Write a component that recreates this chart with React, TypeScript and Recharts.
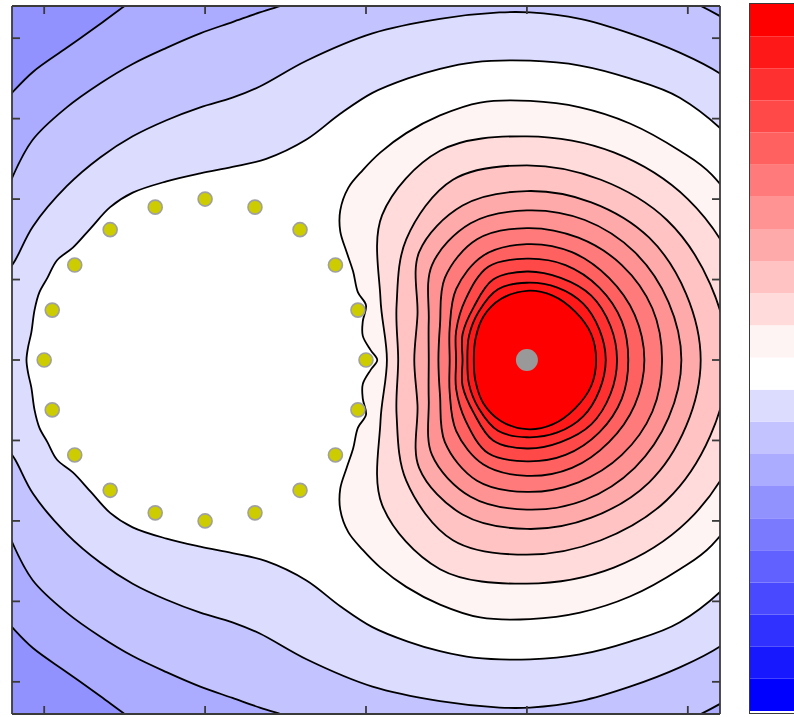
import React from "react";
import { ComposedChart, Scatter, XAxis, YAxis, CartesianGrid, BarChart, Bar } from "recharts";

type Pt = [number, number];
type XY = { x: number; y: number };

// colour bands of the colour bar, top (red) to bottom (blue)
const bandColors = [
  "#ff0000", "#ff1818", "#ff3030", "#ff4848", "#ff6161", "#ff7a7a", "#ff9292", "#ffaaaa",
  "#ffc3c3", "#ffdbdb", "#fff4f4", "#ffffff", "#dcdcff", "#c3c3ff", "#ababff", "#9292ff",
  "#7a7aff", "#6161ff", "#4949ff", "#3030ff", "#1818ff", "#0000ff",
];

const xTicks = [-2, -1, 0, 1, 2];
const yTicks = [-2, -1.5, -1, -0.5, 0, 0.5, 1, 1.5, 2];

// ring of sources around (-1, 0)
const ringX = [-1.0, -0.69, -0.41, -0.19, -0.05, 0.0, -0.05, -0.19, -0.41, -0.69, -1.0, -1.31, -1.59, -1.81, -1.95, -2.0, -1.95, -1.81, -1.59, -1.31];
const ringY = [1.0, 0.95, 0.81, 0.59, 0.31, 0.0, -0.31, -0.59, -0.81, -0.95, -1.0, -0.95, -0.81, -0.59, -0.31, 0.0, 0.31, 0.59, 0.81, 0.95];
const chargeX = [1.0];
const chargeY = [0.0];

// contour lines, upper half only (the field is mirror symmetric about y = 0)
const cP: Pt[] = [[3.9, 0], [3.9, 2.7], [0, 2.75], [-1.1, 2.5], [-1.34, 2.31], [-1.5, 2.2], [-1.65, 2.09], [-1.86, 1.94], [-2.07, 1.79], [-2.2, 1.66], [-2.34, 1.5], [-2.5, 1.2], [-2.6, 0.6], [-2.6, 0]];
const cQ: Pt[] = [[3.45, 0], [3.27, 0.94], [2.73, 1.73], [2.23, 2.12], [1.63, 2.37], [1.0, 2.45], [0.4, 2.42], [-0.16, 2.31], [-0.53, 2.2], [-0.66, 2.16], [-0.83, 2.1], [-1.03, 2.03], [-1.24, 1.94], [-1.45, 1.84], [-1.65, 1.72], [-1.86, 1.57], [-2.07, 1.37], [-2.2, 1.13], [-2.28, 0.9], [-2.4, 0.44], [-2.43, 0]];
const cR: Pt[] = [[3.15, 0], [2.99, 0.82], [2.52, 1.52], [2.2, 1.78], [1.95, 1.91], [1.64, 2.03], [1.33, 2.12], [1.02, 2.16], [0.83, 2.16], [0.46, 2.12], [0.04, 2.03], [-0.37, 1.86], [-0.66, 1.7], [-0.83, 1.63], [-1.03, 1.57], [-1.24, 1.49], [-1.45, 1.39], [-1.65, 1.26], [-1.86, 1.08], [-2.07, 0.83], [-2.18, 0.62], [-2.3, 0.43], [-2.37, 0]];
const cW: Pt[] = [[2.88, 0], [2.73, 0.72], [2.32, 1.32], [1.95, 1.63], [1.64, 1.75], [1.33, 1.83], [1.02, 1.86], [0.67, 1.85], [0.46, 1.81], [0.26, 1.75], [0.04, 1.66], [-0.16, 1.53], [-0.37, 1.37], [-0.62, 1.25], [-0.83, 1.2], [-1.03, 1.16], [-1.24, 1.11], [-1.45, 1.04], [-1.59, 0.95], [-1.71, 0.82], [-1.82, 0.7], [-1.92, 0.62], [-1.98, 0.51], [-2.03, 0.42], [-2.06, 0.31], [-2.08, 0.17], [-2.1, 0.08], [-2.11, 0]];
const cD: Pt[] = [[2.63, 0], [2.51, 0.61], [2.15, 1.15], [1.95, 1.3], [1.64, 1.47], [1.33, 1.57], [1.02, 1.61], [0.71, 1.6], [0.46, 1.52], [0.25, 1.41], [0.09, 1.29], [-0.02, 1.18], [-0.11, 1.07], [-0.16, 0.93], [-0.16, 0.8], [-0.12, 0.67], [-0.08, 0.55], [-0.05, 0.42], [0.0, 0.34], [-0.02, 0.24], [-0.02, 0.15], [0.03, 0.06], [0.07, 0]];
const cE: Pt[] = [[2.42, 0], [2.31, 0.54], [2.0, 1.0], [1.54, 1.29], [1.0, 1.39], [0.46, 1.3], [0.1, 0.9], [0.09, 0.38], [0.13, 0]];
const cF: Pt[] = [[2.25, 0], [2.14, 0.47], [1.87, 0.87], [1.46, 1.12], [1.0, 1.21], [0.54, 1.12], [0.25, 0.75], [0.19, 0.34], [0.2, 0]];
const cG: Pt[] = [[2.08, 0], [1.99, 0.41], [1.76, 0.76], [1.4, 0.98], [1.0, 1.05], [0.6, 0.96], [0.33, 0.67], [0.32, 0.28], [0.3, 0]];
const cH: Pt[] = [[1.96, 0], [1.88, 0.36], [1.67, 0.67], [1.36, 0.87], [1.0, 0.93], [0.65, 0.85], [0.41, 0.59], [0.39, 0.25], [0.39, 0]];
const cI: Pt[] = [[1.84, 0], [1.78, 0.32], [1.59, 0.59], [1.32, 0.76], [1.0, 0.82], [0.69, 0.75], [0.49, 0.51], [0.46, 0.22], [0.45, 0]];
const cJ: Pt[] = [[1.73, 0], [1.67, 0.28], [1.51, 0.51], [1.28, 0.67], [1.0, 0.72], [0.73, 0.65], [0.56, 0.44], [0.52, 0.2], [0.52, 0]];
const cK: Pt[] = [[1.63, 0], [1.59, 0.24], [1.45, 0.45], [1.24, 0.59], [1.0, 0.63], [0.76, 0.58], [0.62, 0.38], [0.56, 0.18], [0.56, 0]];
const cL: Pt[] = [[1.56, 0], [1.52, 0.21], [1.4, 0.4], [1.21, 0.51], [1.0, 0.55], [0.79, 0.5], [0.67, 0.33], [0.6, 0.16], [0.6, 0]];
const cM: Pt[] = [[1.49, 0], [1.45, 0.19], [1.35, 0.35], [1.19, 0.45], [1.0, 0.48], [0.82, 0.44], [0.7, 0.3], [0.64, 0.15], [0.63, 0]];
const cN: Pt[] = [[1.43, 0], [1.4, 0.16], [1.3, 0.3], [1.16, 0.4], [1.0, 0.43], [0.84, 0.38], [0.73, 0.27], [0.68, 0.13], [0.67, 0]];

// outermost first; band = index into bandColors of the area inside the line
const contours = [
  { id: "p", half: cP, band: 14 },
  { id: "q", half: cQ, band: 13 },
  { id: "r", half: cR, band: 12 },
  { id: "w", half: cW, band: 11 },
  { id: "d", half: cD, band: 10 },
  { id: "e", half: cE, band: 9 },
  { id: "f", half: cF, band: 8 },
  { id: "g", half: cG, band: 7 },
  { id: "h", half: cH, band: 6 },
  { id: "i", half: cI, band: 5 },
  { id: "j", half: cJ, band: 4 },
  { id: "k", half: cK, band: 3 },
  { id: "l", half: cL, band: 2 },
  { id: "m", half: cM, band: 1 },
  { id: "n", half: cN, band: 0 },
];

// close a half contour by mirroring it below the axis (the last point would repeat the first)
const loop = (half: Pt[]) => {
  const lower = half.slice(1, -1).reverse().map(([x, y]) => [x, -y] as Pt);
  return [...half, ...lower].map(([x, y]) => ({ x, y }));
};

const ring = ringX.map((x, i) => ({ x, y: ringY[i] }));
const charge = chargeX.map((x, i) => ({ x, y: chargeY[i] }));

const cbRow: Record<string, number | string> = { name: "cb" };
const cbKeys = bandColors.map((_, i) => "b" + i).reverse(); // bottom band first
cbKeys.forEach((k) => (cbRow[k] = 1));

// closed centripetal Catmull-Rom through the screen points the Scatter has computed
function closedPath(pts: XY[]) {
  const n = pts.length;
  const dist = (a: XY, b: XY) => Math.hypot(a.x - b.x, a.y - b.y);
  let d = `M${pts[0].x},${pts[0].y}`;
  for (let i = 0; i < n; i++) {
    const p0 = pts[(i - 1 + n) % n], p1 = pts[i], p2 = pts[(i + 1) % n], p3 = pts[(i + 2) % n];
    const d01 = dist(p0, p1), d12 = dist(p1, p2), d23 = dist(p2, p3);
    const a01 = Math.sqrt(d01), a12 = Math.sqrt(d12), a23 = Math.sqrt(d23);
    let c1x = p1.x, c1y = p1.y, c2x = p2.x, c2y = p2.y;
    if (a01 > 1e-6) {
      const a = 2 * d01 + 3 * a01 * a12 + d12, m = 3 * a01 * (a01 + a12);
      c1x = (p1.x * a - p0.x * d12 + p2.x * d01) / m;
      c1y = (p1.y * a - p0.y * d12 + p2.y * d01) / m;
    }
    if (a23 > 1e-6) {
      const b = 2 * d23 + 3 * a23 * a12 + d12, m = 3 * a23 * (a23 + a12);
      c2x = (p2.x * b + p1.x * d23 - p3.x * d12) / m;
      c2y = (p2.y * b + p1.y * d23 - p3.y * d12) / m;
    }
    d += `C${c1x},${c1y},${c2x},${c2y},${p2.x},${p2.y}`;
  }
  return d + "Z";
}

const contourLine = (color: string) => (p: any) => (
  <path d={closedPath(p.points)} fill={color} stroke="#000" strokeWidth={1.8} />
);

const frame = { stroke: "#3a3a3a", strokeWidth: 1.8 };
const noDot = () => <g />;
const ringDot = (p: any) => (
  <circle cx={p.cx} cy={p.cy} r={7} fill="#cccc00" stroke="#a0a0a0" strokeWidth={1.6} />
);
const chargeDot = (p: any) => <circle cx={p.cx} cy={p.cy} r={11} fill="#999999" />;

const W = 794;
const H = 717;

export default function App() {
  return (
    <div style={{ position: "relative", width: W, height: H, overflow: "hidden", background: "#fff" }}>
      <style>{"body{margin:0}"}</style>
      <ComposedChart width={W} height={H} margin={{ top: 6, right: 74, bottom: 3, left: 12 }}>
        <CartesianGrid xAxisId="b" yAxisId="l" horizontal={false} vertical={false} fill={bandColors[15]} stroke="none" />
        {contours.map((c) => (
          <Scatter
            key={c.id}
            xAxisId="b"
            yAxisId="l"
            data={loop(c.half)}
            isAnimationActive={false}
            line={contourLine(bandColors[c.band])}
            shape={noDot}
          />
        ))}
        <Scatter xAxisId="b" yAxisId="l" data={ring} isAnimationActive={false} shape={ringDot} />
        <Scatter xAxisId="b" yAxisId="l" data={charge} isAnimationActive={false} shape={chargeDot} />
        <XAxis xAxisId="b" dataKey="x" type="number" domain={[-2.2, 2.2]} allowDataOverflow hide />
        <YAxis yAxisId="l" dataKey="y" type="number" domain={[-2.2, 2.2]} allowDataOverflow hide />
      </ComposedChart>

      {/* frame and inward ticks, drawn over the filled contours */}
      <div style={{ position: "absolute", left: 0, top: 0 }}>
        <ComposedChart width={W} height={H} margin={{ top: 5, right: 73, bottom: 2, left: 11 }}>
          <Scatter xAxisId="b" yAxisId="l" data={charge} isAnimationActive={false} shape={noDot} />
          <XAxis xAxisId="b" dataKey="x" type="number" domain={[-2.2, 2.2]} ticks={xTicks} interval={0} allowDataOverflow
            orientation="bottom" height={1} tick={noDot} tickSize={-8} axisLine={frame} tickLine={frame} />
          <XAxis xAxisId="t" dataKey="x" type="number" domain={[-2.2, 2.2]} ticks={xTicks} interval={0} allowDataOverflow
            orientation="top" height={1} tick={noDot} tickSize={-8} axisLine={frame} tickLine={frame} />
          <YAxis yAxisId="l" dataKey="y" type="number" domain={[-2.2, 2.2]} ticks={yTicks} interval={0} allowDataOverflow
            orientation="left" width={1} tick={noDot} tickSize={-8} axisLine={frame} tickLine={frame} />
          <YAxis yAxisId="r" dataKey="y" type="number" domain={[-2.2, 2.2]} ticks={yTicks} interval={0} allowDataOverflow
            orientation="right" width={1} tick={noDot} tickSize={-8} axisLine={frame} tickLine={frame} />
        </ComposedChart>
      </div>

      <div style={{ position: "absolute", left: 749, top: 3, width: 60, height: 711, border: "1.8px solid #3a3a3a", boxSizing: "border-box", overflow: "hidden" }}>
        <BarChart width={57} height={707} data={[cbRow]} margin={{ top: 0, right: 0, bottom: 0, left: 0 }} barCategoryGap={0}>
          <XAxis dataKey="name" hide />
          <YAxis hide type="number" domain={[0, bandColors.length]} />
          {cbKeys.map((k) => (
            <Bar key={k} dataKey={k} stackId="cb" fill={bandColors[Number(k.slice(1))]} isAnimationActive={false} />
          ))}
        </BarChart>
      </div>
    </div>
  );
}
